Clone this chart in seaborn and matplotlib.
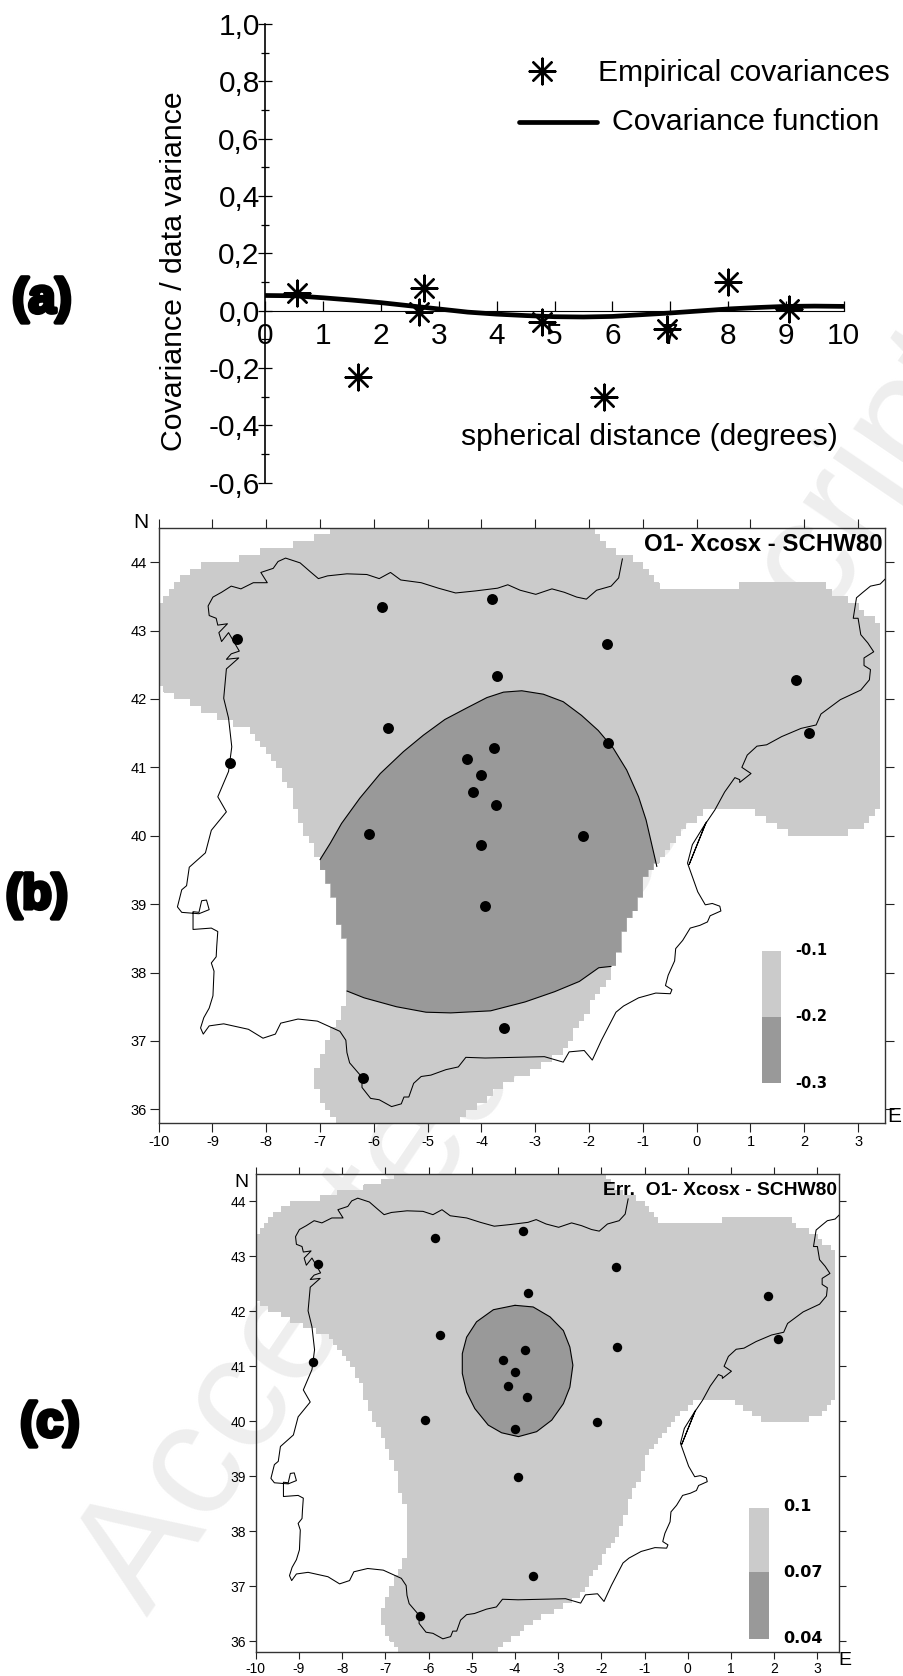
import matplotlib
matplotlib.use("Agg")
import matplotlib.pyplot as plt
import matplotlib.patheffects as pe
from matplotlib.patches import PathPatch, Rectangle
from matplotlib.path import Path
from matplotlib.transforms import Affine2D
import numpy as np
import seaborn as sns

W, H = 904, 1676

# panel (a)
emp_dist = [0.54, 1.60, 2.74, 2.66, 4.79, 5.86, 6.95, 8.00, 9.05]
emp_cov = [0.06, -0.23, 0.08, -0.006, -0.04, -0.30, -0.065, 0.10, 0.006]
fn_dist = [0, 0.5, 1, 1.5, 2, 2.5, 3, 3.5, 4, 4.5, 5, 5.5, 6, 6.5, 7, 7.5, 8, 8.5, 9, 9.5, 10]
fn_cov = [0.053, 0.052, 0.045, 0.037, 0.028, 0.017, 0.006, -0.005, -0.012, -0.017, -0.021,
          -0.022, -0.020, -0.014, -0.008, -0.001, 0.006, 0.011, 0.015, 0.016, 0.015]
y_ticks = [-0.6, -0.4, -0.2, 0.0, 0.2, 0.4, 0.6, 0.8, 1.0]
y_labels = ["-0,6", "-0,4", "-0,2", "0,0", "0,2", "0,4", "0,6", "0,8", "1,0"]

# stations, same in both maps
st_lon = [-5.85, -3.81, -8.55, -1.67, -3.71, 1.85, -5.74, 2.09, -1.65, -3.76, -4.27,
          -8.67, -4.01, -4.16, -3.73, -6.09, -2.11, -4.01, -3.94, -3.59, -6.21]
st_lat = [43.34, 43.46, 42.87, 42.80, 42.34, 42.28, 41.57, 41.50, 41.35, 41.29, 41.12,
          41.07, 40.89, 40.64, 40.45, 40.02, 39.99, 39.86, 38.98, 37.19, 36.46]

# coastline
coast_lon = [-1.38, -1.45, -1.59, -1.86, -2.05, -2.23, -2.46, -2.69, -2.99, -3.28, -3.51, -3.70,
             -4.11, -4.48, -4.80, -5.12, -5.50, -5.69, -5.90, -6.13, -6.50, -6.86, -7.03, -7.18,
             -7.37, -7.64, -7.78, -7.87, -8.10, -7.98, -8.24, -8.47, -8.65, -8.83, -8.99, -9.08,
             -9.06, -8.93, -8.90, -8.72, -8.88, -8.83, -8.70, -8.50, -8.65, -8.74, -8.51, -8.74,
             -8.79, -8.70, -8.64, -8.70, -8.83, -8.90, -8.74, -9.02, -9.13, -9.43, -9.48, -9.57,
             -9.65, -9.57, -9.25, -9.06, -9.11, -9.20, -9.25, -9.36, -9.36, -9.02, -8.90, -8.92,
             -8.93, -9.02, -8.97, -8.99, -9.06, -9.16, -9.22, -9.17, -9.06, -8.79, -8.33, -8.06,
             -7.83, -7.73, -7.41, -7.05, -6.63, -6.52, -6.50, -6.45, -6.22, -6.22, -6.06, -5.90,
             -5.67, -5.49, -5.44, -5.35, -5.26, -5.12, -4.94, -4.66, -4.43, -4.29, -3.93, -3.38,
             -2.83, -2.48, -2.37, -2.09, -1.94, -1.77, -1.50, -1.36, -1.08, -0.76, -0.49, -0.46,
             -0.58, -0.53, -0.41, -0.39, -0.26, -0.12, 0.06, 0.20, 0.25, 0.45, 0.43, 0.29, 0.16,
             0.02, -0.17, -0.08, 0.18, -0.14, 0.16, 0.34, 0.52, 0.71, 0.80, 0.80, 1.01, 0.84,
             0.94, 1.12, 1.30, 1.58, 1.94, 2.22, 2.31, 2.67, 3.05, 3.21, 3.23, 3.11, 3.11, 3.29,
             3.18, 3.05, 3.00, 2.91, 2.97, 3.09, 3.23, 3.41, 3.60]
coast_lat = [44.05, 43.77, 43.65, 43.59, 43.46, 43.49, 43.56, 43.61, 43.53, 43.59, 43.67, 43.62,
             43.58, 43.55, 43.62, 43.70, 43.74, 43.85, 43.76, 43.82, 43.83, 43.80, 43.76, 43.86,
             43.99, 44.06, 44.01, 43.91, 43.85, 43.70, 43.70, 43.61, 43.65, 43.56, 43.49, 43.36,
             43.22, 43.18, 43.08, 43.10, 42.97, 42.84, 42.97, 42.70, 42.66, 42.58, 42.60, 42.44,
             42.01, 41.72, 41.30, 40.94, 40.70, 40.57, 40.35, 40.08, 39.75, 39.54, 39.27, 39.21,
             38.96, 38.88, 38.86, 38.92, 39.06, 39.05, 38.88, 38.89, 38.63, 38.65, 38.60, 38.38,
             38.23, 38.14, 38.02, 37.66, 37.48, 37.34, 37.19, 37.10, 37.22, 37.25, 37.17, 37.04,
             37.10, 37.26, 37.32, 37.29, 37.14, 37.01, 36.83, 36.68, 36.47, 36.32, 36.16, 36.14,
             36.04, 36.08, 36.18, 36.18, 36.38, 36.48, 36.50, 36.58, 36.62, 36.76, 36.75, 36.76,
             36.77, 36.69, 36.84, 36.86, 36.72, 37.01, 37.42, 37.51, 37.63, 37.70, 37.69, 37.75,
             37.81, 37.96, 38.17, 38.35, 38.47, 38.65, 38.69, 38.74, 38.83, 38.90, 38.97, 39.01,
             38.99, 39.18, 39.60, 39.87, 40.20, 39.58, 40.17, 40.38, 40.64, 40.85, 40.82, 40.78,
             40.91, 41.00, 41.18, 41.31, 41.33, 41.45, 41.57, 41.62, 41.78, 41.99, 42.13, 42.28,
             42.43, 42.49, 42.60, 42.69, 42.82, 42.94, 43.18, 43.18, 43.48, 43.56, 43.65, 43.68, 43.83]

# outline of the area where a map has values
area_lon = [-10.1, -10.0, -9.75, -9.52, -9.11, -8.61, -8.10, -7.50, -7.05, -6.68, -6.68, -1.95, -1.95,
            -1.58, -1.08, -0.80, -0.53, 0.66, 0.80, 2.31, 2.59, 2.95, 3.23, 3.39, 3.39, 3.23, 3.05,
            2.54, 1.80, 1.43, 1.21, 0.89, 0.20, -0.07, -0.35, -0.67, -0.95, -1.04, -1.36, -1.50,
            -1.68, -2.09, -2.46, -2.83, -3.38, -3.75, -4.30, -4.48, -4.48, -6.59, -6.59, -7.00, -7.09,
            -6.86, -6.50, -6.50, -6.59, -6.72, -7.00, -7.32, -7.50, -7.78, -8.38, -8.93, -9.34,
            -9.66, -10.0, -10.1]
area_lat = [43.33, 43.33, 43.56, 43.80, 44.00, 44.01, 44.16, 44.25, 44.37, 44.50, 44.60, 44.60, 44.50,
            44.19, 43.98, 43.71, 43.59, 43.59, 43.68, 43.68, 43.50, 43.42, 43.18, 43.09, 40.40, 40.32,
            40.11, 40.00, 40.00, 40.20, 40.32, 40.40, 40.40, 40.23, 39.99, 39.63, 39.45, 39.09,
            38.62, 38.20, 37.90, 37.37, 36.89, 36.68, 36.44, 36.26, 35.92, 35.80, 35.70, 35.70, 35.80,
            36.11, 36.47, 37.00, 37.60, 38.44, 38.50, 39.03, 39.65, 40.11, 40.58, 41.00, 41.60,
            41.75, 41.93, 42.00, 42.19, 42.19]

# contour in map (b)
arc_top_lon = [-7.00, -6.81, -6.60, -6.26, -5.88, -5.45, -5.08, -4.68, -4.27, -3.90, -3.59, -3.25,
               -2.85, -2.48, -2.14, -1.83, -1.55, -1.30, -1.08, -0.94, -0.84, -0.74]
arc_top_lat = [39.65, 39.89, 40.18, 40.55, 40.91, 41.23, 41.47, 41.70, 41.87, 42.02, 42.10, 42.12,
               42.07, 41.96, 41.76, 41.54, 41.28, 40.96, 40.57, 40.23, 39.89, 39.55]
arc_bot_lon = [-6.50, -6.18, -5.58, -5.03, -4.57, -3.83, -3.19, -2.64, -2.18, -1.82, -1.59]
arc_bot_lat = [37.73, 37.63, 37.50, 37.42, 37.41, 37.44, 37.57, 37.72, 37.87, 38.07, 38.09]

# contour in map (c)
oval_lon = [-4.00, -3.58, -3.19, -2.88, -2.73, -2.66, -2.73, -2.88, -3.15, -3.50, -3.92, -4.31,
            -4.62, -4.93, -5.12, -5.22, -5.22, -5.12, -4.89, -4.50, -4.00]
oval_lat = [42.11, 42.08, 41.90, 41.65, 41.35, 41.02, 40.62, 40.32, 40.02, 39.81, 39.72, 39.79,
            39.93, 40.23, 40.53, 40.87, 41.23, 41.53, 41.81, 42.03, 42.11]

LIGHT = "#cbcbcb"
DARK = "#999999"


def axes_px(fig, left, top, right, bottom):
    return fig.add_axes([left / W, 1 - bottom / H, (right - left) / W, (bottom - top) / H])


def text_px(fig, x, y, s, **kw):
    return fig.text(x / W, 1 - y / H, s, **kw)


def stair_patch(lon, lat, step=0.1):
    # values were gridded, so the edge of the area goes in steps
    outline = Path(np.column_stack([lon, lat]))
    gx, gy = np.meshgrid(np.arange(-10, 3.5, step), np.arange(35.8, 44.5, step))
    inside = outline.contains_points(np.column_stack([gx.ravel() + step / 2, gy.ravel() + step / 2]))
    cells = [Path.unit_rectangle().transformed(Affine2D().scale(step).translate(x, y))
             for x, y in zip(gx.ravel()[inside], gy.ravel()[inside])]
    return PathPatch(Path.make_compound_path(*cells), facecolor=LIGHT, edgecolor="none",
                     antialiased=False, zorder=1)


def draw_map(ax, dot_size, tick_size, tick_len):
    ax.set_xlim(-10, 3.5)
    ax.set_ylim(35.8, 44.5)
    patch = stair_patch(area_lon, area_lat)
    ax.add_patch(patch)
    sns.lineplot(x=coast_lon, y=coast_lat, sort=False, estimator=None, color="black", lw=0.75,
                 ax=ax, zorder=4)
    sns.scatterplot(x=st_lon, y=st_lat, color="black", s=dot_size, linewidth=0, ax=ax, zorder=5,
                    legend=False)
    ax.set_xticks(range(-10, 4))
    ax.set_yticks(range(36, 45))
    ax.set_xticklabels([str(v) for v in range(-10, 4)])
    ax.tick_params(axis="both", which="major", direction="out", length=tick_len, width=0.8,
                   labelsize=tick_size, top=True, right=True, bottom=True, left=True, pad=2,
                   color="#222222")
    for sp in ax.spines.values():
        sp.set_visible(True)
        sp.set_color("#333333")
        sp.set_linewidth(1.0)
    return patch


sns.set_theme(style="white")
plt.rcParams["font.family"] = ["Liberation Sans", "DejaVu Sans"]
plt.rcParams["axes.facecolor"] = "none"
plt.rcParams["text.color"] = "black"
plt.rcParams["xtick.labelcolor"] = "black"
plt.rcParams["ytick.labelcolor"] = "black"

fig = plt.figure(figsize=(W / 100, H / 100), dpi=100, facecolor="white")

# watermark sits behind all the panels
text_px(fig, 148, 1618, "Accepted Manuscript", fontsize=116, color="#eeeeee", rotation=55.8,
        rotation_mode="anchor", ha="left", va="baseline", zorder=-5)

# ---- (a)
ax = axes_px(fig, 265.3, 24, 843.7, 482.7)
ax.set_xlim(0, 10)
ax.set_ylim(-0.6, 1.0)
sns.lineplot(x=fn_dist, y=fn_cov, color="black", lw=3.4, ax=ax, zorder=3, estimator=None)
sns.scatterplot(x=emp_dist, y=emp_cov, marker=(8, 2, 0), s=340, color="black", linewidth=1.7,
                ax=ax, zorder=4, legend=False, clip_on=False)
sns.despine(ax=ax)
ax.spines["left"].set_position(("data", 0))
ax.spines["bottom"].set_position(("data", 0))
ax.spines["left"].set_linewidth(1.2)
ax.spines["bottom"].set_linewidth(0.8)
ax.spines["left"].set_color("black")
ax.spines["bottom"].set_color("black")
ax.set_xticks(range(0, 11))
ax.set_yticks(y_ticks)
ax.set_yticklabels(y_labels)
ax.set_yticks(np.arange(-0.5, 1.0, 0.2), minor=True)
ax.tick_params(axis="x", direction="in", length=7, width=0.9, labelsize=21.5, pad=8, bottom=True,
               color="black")
ax.tick_params(axis="y", which="major", direction="inout", length=10, width=0.9, labelsize=21.5, pad=-1,
               left=True, color="black")
ax.tick_params(axis="y", which="minor", direction="inout", length=6, width=0.9, left=True, color="black")
text_px(fig, 174, 271, "Covariance / data variance", fontsize=21.8, rotation=90, ha="center", va="center")
ax.text(3.39, -0.442, "spherical distance (degrees)", fontsize=21.6, ha="left", va="center")
# legend keys are placed by hand, the two rows do not line up
sns.scatterplot(x=[4.79], y=[0.835], marker=(8, 2, 0), s=340, color="black", linewidth=1.7, ax=ax,
                legend=False)
ax.plot([4.39, 5.73], [0.657, 0.657], color="black", lw=3.4, solid_capstyle="round")
ax.text(5.75, 0.83, "Empirical covariances", fontsize=21.6, ha="left", va="center")
ax.text(6.0, 0.657, "Covariance function", fontsize=21.8, ha="left", va="center")

# ---- (b)
ax = axes_px(fig, 158.6, 528, 885, 1123)
patch = draw_map(ax, 62, 10.5, 6.5)
dark = ax.fill(arc_top_lon + [-0.3, -0.3] + arc_bot_lon[::-1] + [-7.5, -7.5],
               arc_top_lat + [39.55, 38.09] + arc_bot_lat[::-1] + [37.73, 39.65],
               color=DARK, lw=0, zorder=2)[0]
dark.set_clip_path(patch)
sns.lineplot(x=arc_top_lon, y=arc_top_lat, sort=False, estimator=None, color="black", lw=0.8, ax=ax, zorder=3)
sns.lineplot(x=arc_bot_lon, y=arc_bot_lat, sort=False, estimator=None, color="black", lw=0.8, ax=ax, zorder=3)
ax.add_patch(Rectangle((1.215, 37.35), 0.345, 0.97, color=LIGHT, lw=0, zorder=2))
ax.add_patch(Rectangle((1.215, 36.38), 0.345, 0.97, color=DARK, lw=0, zorder=2))
for lat, lab in zip([38.32, 37.35, 36.38], ["-0.1", "-0.2", "-0.3"]):
    ax.text(1.83, lat, lab, fontsize=10.5, fontweight="bold", family="DejaVu Sans", ha="left", va="center")
text_px(fig, 882.7, 544.7, "O1- Xcosx - SCHW80", fontsize=17.3, fontweight="bold", ha="right", va="center")
text_px(fig, 141, 522, "N", fontsize=15, ha="center", va="center")
text_px(fig, 894, 1116, "E", fontsize=15, ha="center", va="center")

# ---- (c)
ax = axes_px(fig, 255.8, 1174, 839, 1652)
draw_map(ax, 46, 10, 5)
ax.fill(oval_lon, oval_lat, color=DARK, lw=0, zorder=2)
sns.lineplot(x=oval_lon, y=oval_lat, sort=False, estimator=None, color="black", lw=0.8, ax=ax, zorder=3)
ax.add_patch(Rectangle((1.42, 37.25), 0.47, 1.18, color=LIGHT, lw=0, zorder=2))
ax.add_patch(Rectangle((1.42, 36.03), 0.47, 1.22, color=DARK, lw=0, zorder=2))
for lat, lab in zip([38.45, 37.24, 36.04], ["0.1", "0.07", "0.04"]):
    ax.text(2.22, lat, lab, fontsize=11.5, fontweight="bold", family="DejaVu Sans", ha="left", va="center")
text_px(fig, 836.6, 1190, "Err.  O1- Xcosx - SCHW80", fontsize=13.9, fontweight="bold", ha="right", va="center")
text_px(fig, 241, 1182, "N", fontsize=14, ha="center", va="center")
text_px(fig, 845, 1660, "E", fontsize=14, ha="center", va="center")

# panel letters, heavier than any installed bold
for x, y, s in [(42, 300, "(a)"), (37, 896, "(b)"), (50, 1424, "(c)")]:
    t = text_px(fig, x, y, s, fontsize=35, fontweight="bold", color="black", ha="center", va="center")
    t.set_path_effects([pe.withStroke(linewidth=3, foreground="black")])

fig.savefig("out.png", dpi=100)
